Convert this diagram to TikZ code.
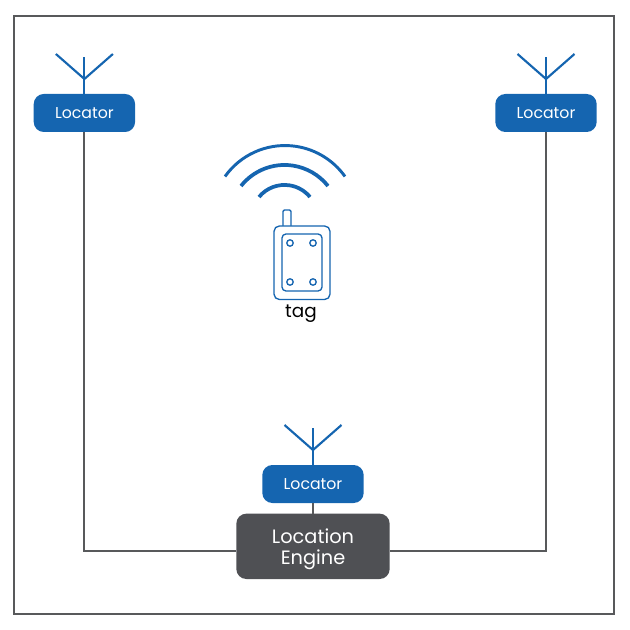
\documentclass[tikz,border=0pt]{standalone}
\usepackage{fontspec}
\setmainfont{Poppins}
\usetikzlibrary{positioning}
\definecolor{locblue}{HTML}{1565B0}
\definecolor{enggray}{HTML}{4F5054}
\definecolor{wiregray}{HTML}{58595B}
\tikzset{
  locator/.style={fill=locblue, text=white, rounded corners=7.5pt, minimum width=76pt, minimum height=28.5pt, inner sep=0pt, outer sep=0pt, font=\fontsize{11.8}{14}\selectfont},
  engine/.style={fill=enggray, text=white, rounded corners=7.5pt, minimum width=115pt, minimum height=49pt, inner sep=0pt, outer sep=0pt, align=center, font=\fontsize{14.5}{16}\selectfont},
  wire/.style={draw=wiregray, line width=1.5pt},
  aerial/.style={draw=locblue, line width=1.6pt},
  wave/.style={draw=locblue, line width=2.8pt},
  tagline/.style={draw=locblue, line width=1pt},
}
\begin{document}
\begin{tikzpicture}[x=0.75pt, y=-0.75pt]
  \useasboundingbox (0,0) rectangle (630,630);
  \draw[draw=wiregray, line width=1.3pt] (14,16) rectangle (614,614);
  \node[locator] (loc1) at (84.4,113) {Locator};
  \node[locator] (loc2) at (546,113) {Locator};
  \node[locator] (loc3) at (313,484) {Locator};
  \node[engine] (eng) [below=8pt of loc3] {\rule{0pt}{15pt}Location\\Engine};
  \coordinate (eng w) at (eng.west |- 0,551);
  \coordinate (eng e) at (eng.east |- 0,551);
  % wires to the engine
  \draw[wire] (loc1.south) |- (eng w);
  \draw[wire] (loc2.south) |- (eng e);
  \draw[wire] (loc3.south) -- (eng.north);
  % aerials
  \foreach \l in {loc1,loc2,loc3} {
    \draw[aerial] (\l.north) -- ++(0,-37);
    \draw[aerial] ([shift={(-28.5,-40)}]\l.north) -- ([shift={(0,-15)}]\l.north) -- ([shift={(28.5,-40)}]\l.north);
  }
  % tag
  \draw[wave, line width=2.2pt] (225,176.5) arc[start angle=-144.6, end angle=-35.4, radius=73.6];
  \draw[wave] (241,186) arc[start angle=-141.6, end angle=-38.4, radius=55.5];
  \draw[wave] (259,197) arc[start angle=-140.6, end angle=-39.4, radius=33];
  \draw[tagline, rounded corners=1pt] (283,227) -- (283,210) -- (291,210) -- (291,227);
  \draw[tagline, fill=white, rounded corners=4pt] (274,226) rectangle (330,299.5);
  \draw[tagline, rounded corners=3pt] (282,234) rectangle (322,291);
  \foreach \cx in {290,313} \foreach \cy in {243,282}
    \draw[tagline] (\cx,\cy) circle (3.2);
  \node[font=\fontsize{13.8}{16}\selectfont] (tag) at (301,314) {tag};
\end{tikzpicture}
\end{document}
